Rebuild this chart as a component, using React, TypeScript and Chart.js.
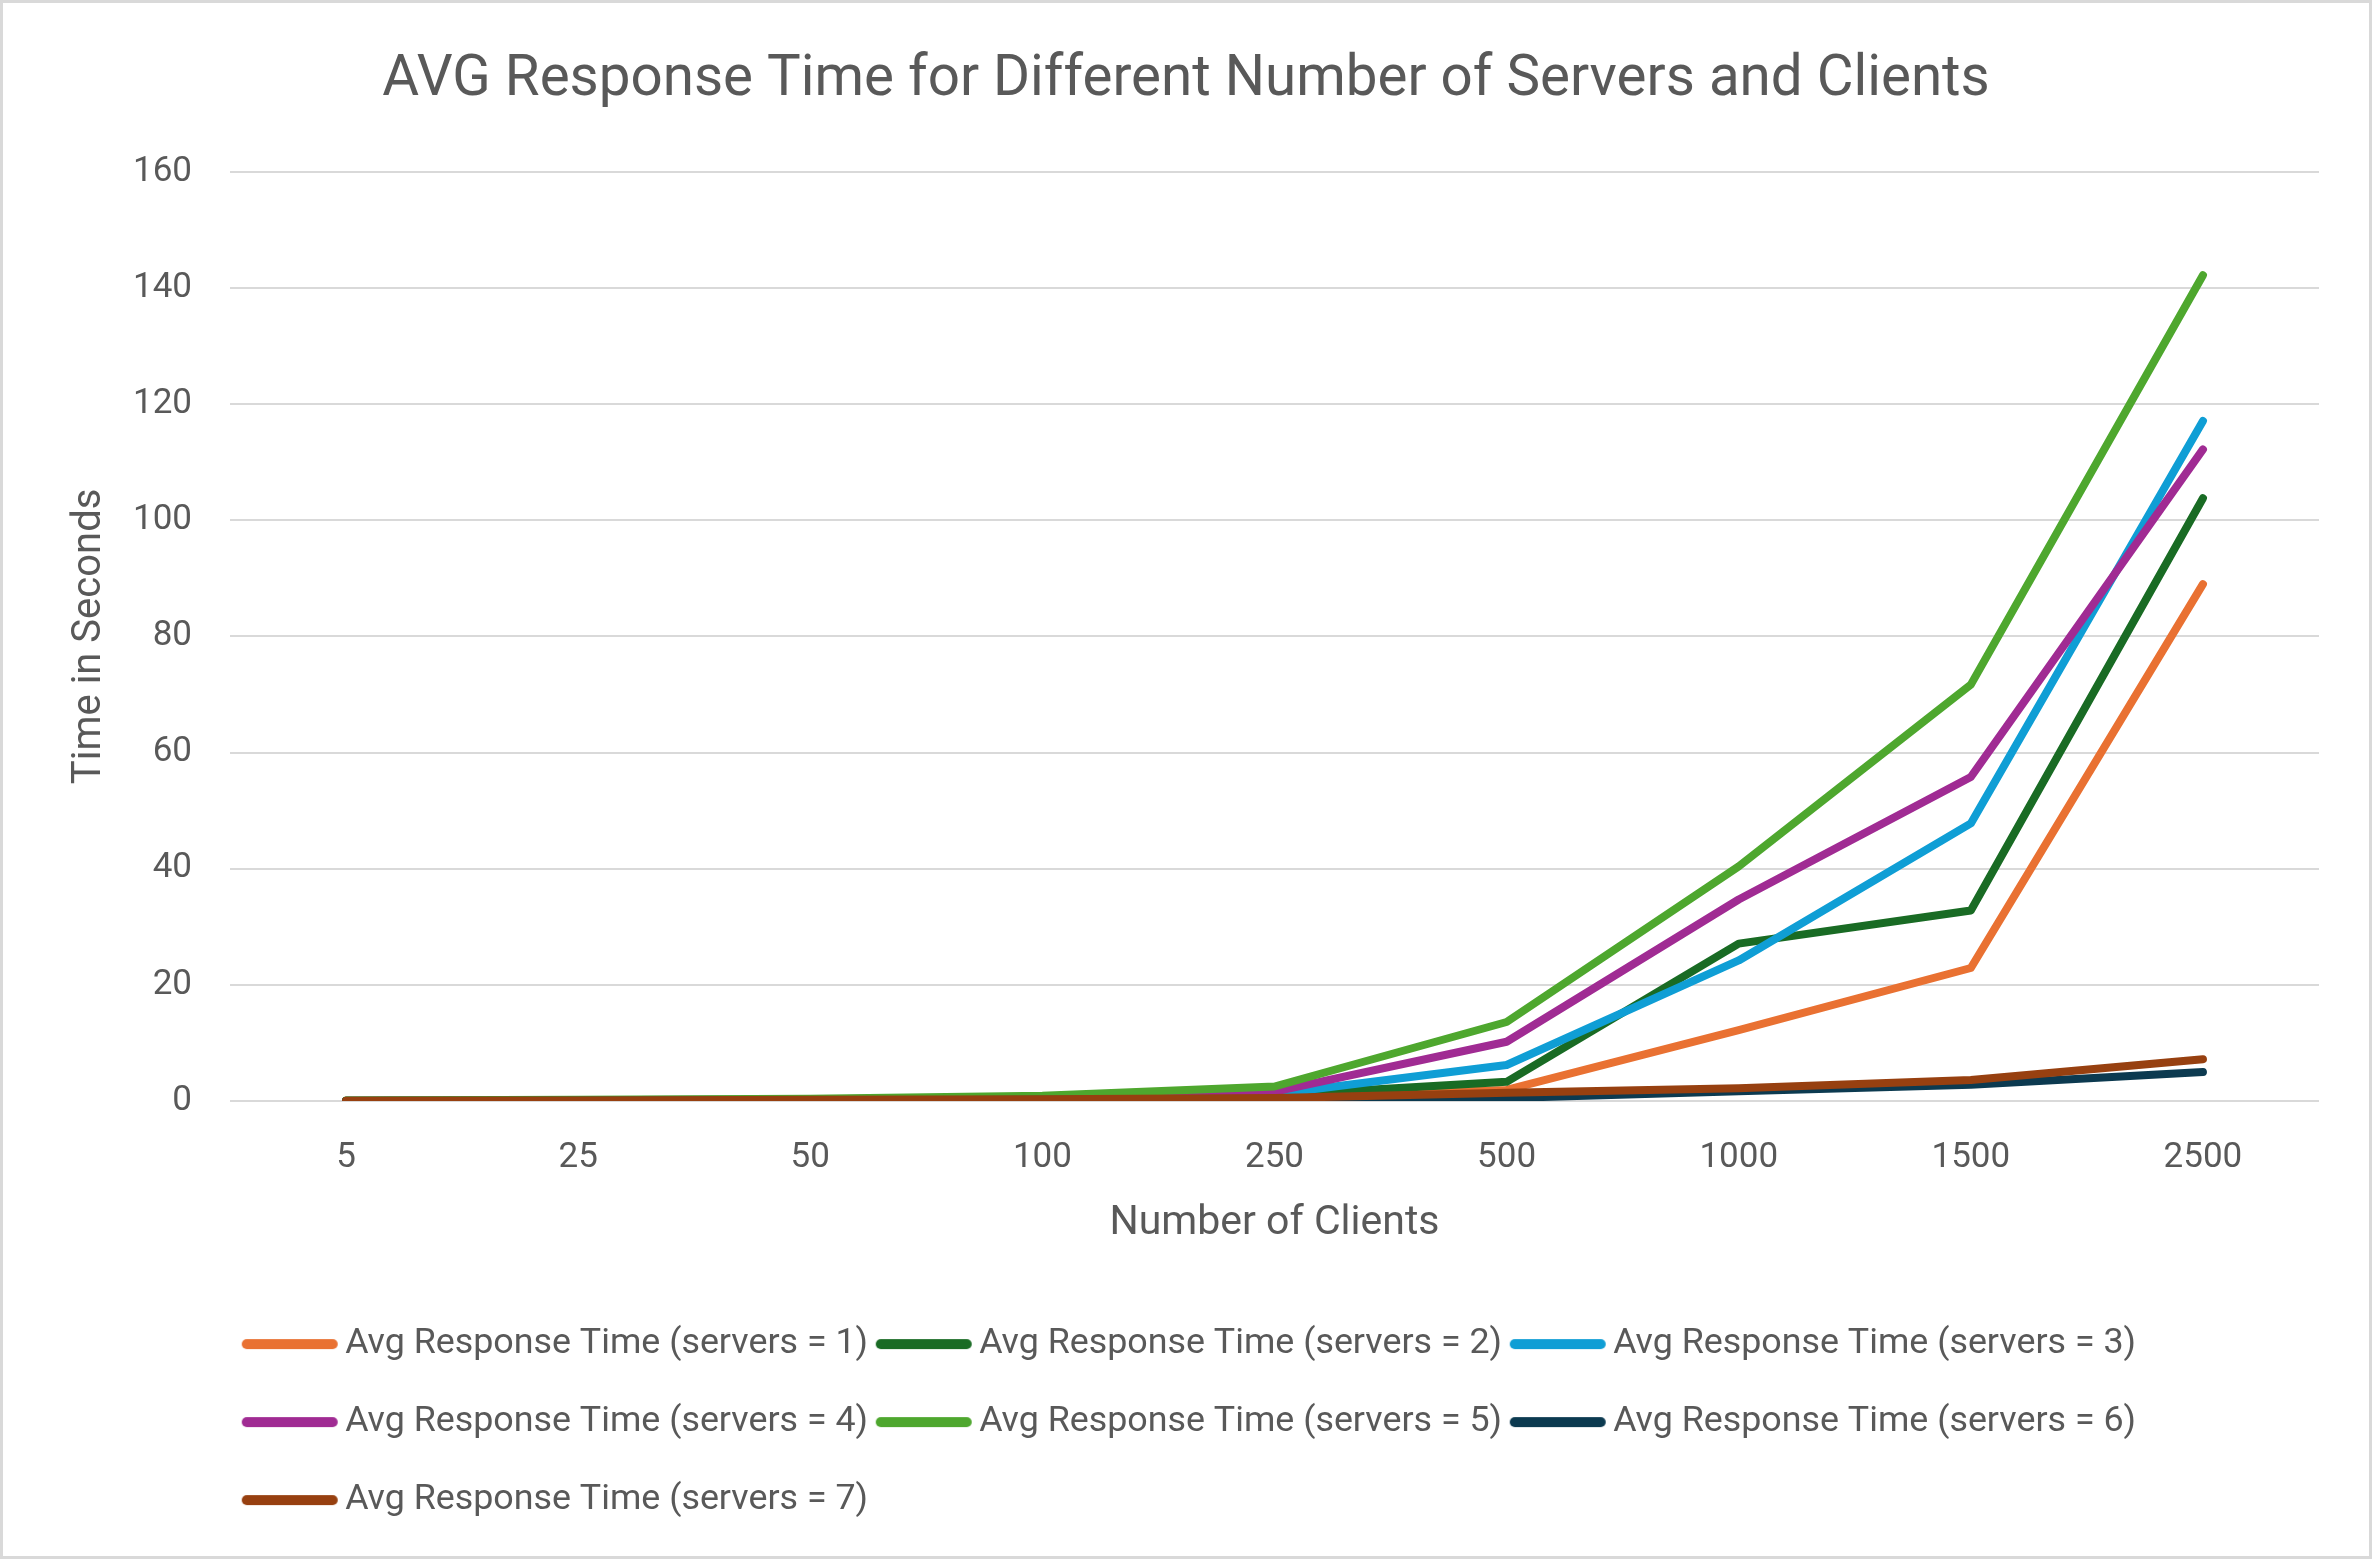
import React, { useEffect, useRef } from 'react';
import { Chart, registerables } from 'chart.js';

Chart.register(...registerables);

const chartTitle = 'AVG Response Time for Different Number of Servers and Clients';
const xAxisTitle = 'Number of Clients';
const yAxisTitle = 'Time in Seconds';

const clients = ['5', '25', '50', '100', '250', '500', '1000', '1500', '2500'];

const servers1 = [0.05, 0.1, 0.2, 0.4, 0.7, 1.9, 12.2, 22.9, 89.0];
const servers2 = [0.05, 0.1, 0.2, 0.4, 1.0, 3.3, 27.1, 32.8, 103.8];
const servers3 = [0.05, 0.1, 0.2, 0.5, 1.2, 6.2, 24.2, 47.8, 117.1];
const servers4 = [0.05, 0.15, 0.3, 0.6, 1.6, 10.2, 34.7, 55.8, 112.2];
const servers5 = [0.1, 0.2, 0.4, 0.9, 2.5, 13.6, 40.4, 71.7, 142.2];
const servers6 = [0.02, 0.05, 0.1, 0.2, 0.2, 0.5, 1.7, 2.8, 5.0];
const servers7 = [0.05, 0.1, 0.2, 0.3, 0.5, 1.4, 2.2, 3.6, 7.2];

const seriesNames = [
  'Avg Response Time (servers = 1)',
  'Avg Response Time (servers = 2)',
  'Avg Response Time (servers = 3)',
  'Avg Response Time (servers = 4)',
  'Avg Response Time (servers = 5)',
  'Avg Response Time (servers = 6)',
  'Avg Response Time (servers = 7)',
];
const seriesValues = [servers1, servers2, servers3, servers4, servers5, servers6, servers7];
const seriesColors = ['#E97132', '#196B24', '#0F9ED5', '#A02B93', '#4EA72E', '#0C3A50', '#974010'];

const yMin = 0;
const yMax = 160;
const yStep = 20;

const FONT = 'Roboto';
const TEXT = '#595959';
const GRID = '#d9d9d9';

const W = 2366;
const H = 1553;
const LEGEND_SHIFT = 4;

export default function App() {
  const ref = useRef<HTMLCanvasElement | null>(null);

  useEffect(() => {
    document.body.style.margin = '0';
    const canvas = ref.current;
    if (!canvas) return;

    const legendFont = 35.8;
    const legendPad = 78 - legendFont;
    const legendStep = 634;
    const measure = document.createElement('canvas').getContext('2d')!;
    measure.font = `${legendFont}px ${FONT}`;
    const textW = measure.measureText(seriesNames[0]).width;
    const boxW = Math.max(10, legendStep - legendFont / 2 - textW - legendPad);

    const plotLeft = 227;
    const firstX = plotLeft + LEGEND_SHIFT + legendPad;
    const cx = firstX + boxW / 2;
    const textStart = firstX + boxW + legendFont / 2;
    const lineLen = 96;
    const lineStart = textStart - 7 - lineLen;
    const a = cx - lineStart;
    const e = lineStart + lineLen - cx;
    const half = Math.max(Math.abs(a), Math.abs(e)) + 2;
    const markers = seriesColors.map((c) => {
      const m = document.createElement('canvas');
      m.width = Math.ceil(half * 2);
      m.height = 14;
      const mc = m.getContext('2d')!;
      mc.strokeStyle = c;
      mc.lineWidth = 10;
      mc.lineCap = 'round';
      mc.beginPath();
      mc.moveTo(half - a + 5, 7);
      mc.lineTo(half + e - 5, 7);
      mc.stroke();
      return m;
    });

    const shiftLegend = {
      id: 'shiftLegend',
      afterLayout(ch: any) {
        if (ch.legend) {
          ch.legend.left += LEGEND_SHIFT;
          ch.legend.right += LEGEND_SHIFT;
        }
      },
    };

    const chart = new Chart(canvas, {
      type: 'line',
      data: {
        labels: clients,
        datasets: seriesValues.map((vals, i) => ({
          label: seriesNames[i],
          data: vals,
          borderColor: seriesColors[i],
          backgroundColor: seriesColors[i],
          borderWidth: 8,
          borderCapStyle: 'round' as const,
          borderJoinStyle: 'round' as const,
          pointRadius: 0,
          pointHoverRadius: 0,
          tension: 0,
          fill: false,
          order: seriesValues.length - i,
        })),
      },
      plugins: [shiftLegend],
      options: {
        responsive: false,
        animation: false,
        events: [],
        devicePixelRatio: 1,
        layout: { padding: { left: 50, right: 50, top: 0, bottom: 28 } },
        plugins: {
          title: {
            display: true,
            text: chartTitle,
            color: TEXT,
            font: { family: FONT, size: 56.5, weight: 'normal' },
            padding: { top: 44, bottom: 57 },
          },
          legend: {
            display: true,
            position: 'bottom',
            align: 'start',
            fullSize: false,
            labels: {
              usePointStyle: true,
              pointStyleWidth: boxW,
              padding: legendPad,
              color: TEXT,
              font: { family: FONT, size: legendFont },
              generateLabels: (ch: any) =>
                ch.data.datasets.map((ds: any, i: number) => ({
                  text: ds.label,
                  fillStyle: seriesColors[i],
                  strokeStyle: seriesColors[i],
                  fontColor: TEXT,
                  lineWidth: 0,
                  pointStyle: markers[i],
                  hidden: false,
                  datasetIndex: i,
                })),
            },
          },
          tooltip: { enabled: false },
        },
        scales: {
          x: {
            type: 'category',
            offset: true,
            grid: { display: false, drawTicks: false },
            border: { display: false },
            ticks: { color: TEXT, font: { family: FONT, size: 35 }, padding: 36 },
            title: {
              display: true,
              text: xAxisTitle,
              color: TEXT,
              font: { family: FONT, size: 41 },
              padding: { top: 10, bottom: 36 },
            },
            afterFit: (scale: any) => {
              scale.height = 183;
            },
          },
          y: {
            min: yMin,
            max: yMax,
            grid: { color: GRID, lineWidth: 2, drawTicks: false },
            border: { display: false },
            ticks: { stepSize: yStep, color: TEXT, font: { family: FONT, size: 35 }, padding: 38 },
            title: {
              display: true,
              text: yAxisTitle,
              color: TEXT,
              font: { family: FONT, size: 40 },
              padding: { top: 13, bottom: 10 },
            },
            afterFit: (scale: any) => {
              scale.width = 177;
            },
          },
        },
      },
    } as any);

    return () => chart.destroy();
  }, []);

  return (
    <div
      style={{
        width: 2372,
        height: 1559,
        boxSizing: 'border-box',
        border: '3px solid #d9d9d9',
        background: '#ffffff',
        overflow: 'hidden',
      }}
    >
      <canvas ref={ref} width={W} height={H} style={{ display: 'block', width: W, height: H }} />
    </div>
  );
}
